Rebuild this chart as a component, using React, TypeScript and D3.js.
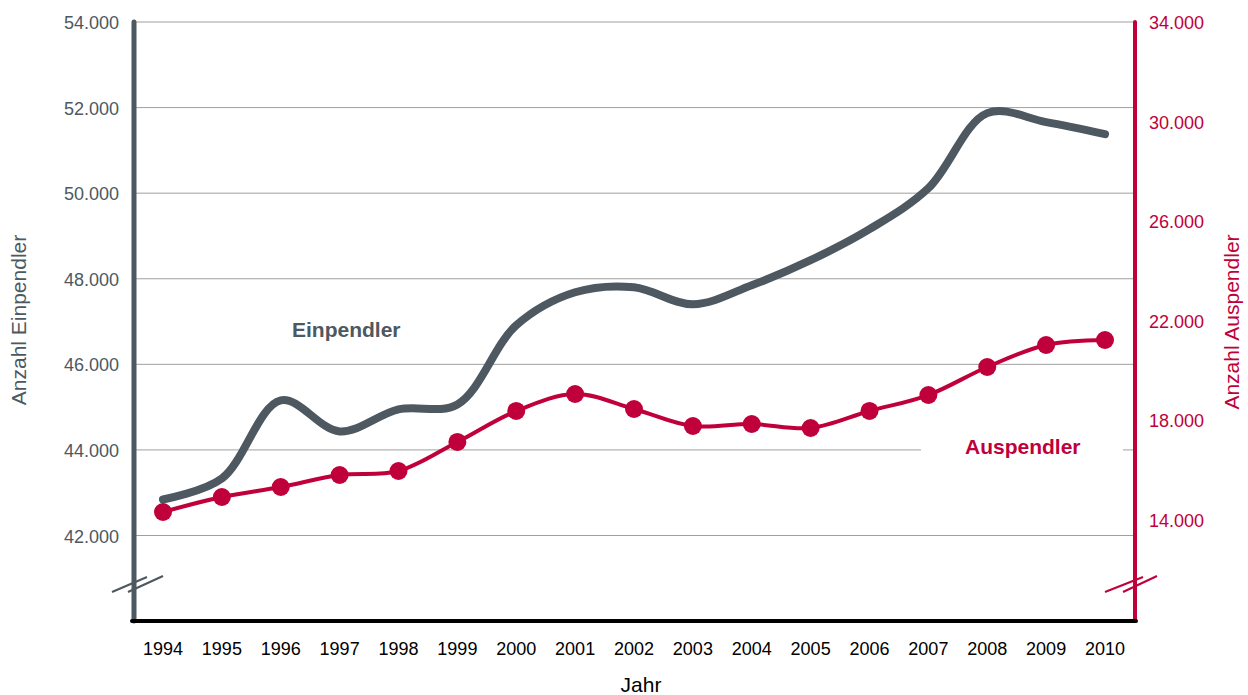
import React from "react";
import * as d3 from "d3";

const years = [1994,1995,1996,1997,1998,1999,2000,2001,2002,2003,2004,2005,2006,2007,2008,2009,2010];
const einpendler = [42842,43333,45158,44433,44947,45064,46912,47684,47801,47404,47848,48433,49158,50117,51871,51661,51380];
const auspendler = [14321,14924,15325,15807,15968,17133,18378,19060,18458,17775,17855,17695,18378,19020,20145,21028,21229];
const leftTicks = [42000,44000,46000,48000,50000,52000,54000];
const rightTicks = [14000,18000,22000,26000,30000,34000];

const GRAY = "#4d5861";
const RED = "#c0003b";
const fmt = (v: number) => d3.format(",")(v).replace(/,/g, ".");

export default function App() {
  const W = 1248, H = 695;
  const xL = 134, xR = 1135, yTop = 22, yBot = 621;
  const x = d3.scalePoint<number>().domain(years).range([163, 1105]);
  const yL = d3.scaleLinear().domain([42000, 54000]).range([535.5, 22]);
  const yR = d3.scaleLinear().domain([14000, 34000]).range([520, 22]);

  const lineE = d3.line<number>().x((_, i) => x(years[i])!).y(d => yL(d)).curve(d3.curveCatmullRom.alpha(0.5));
  const lineA = d3.line<number>().x((_, i) => x(years[i])!).y(d => yR(d)).curve(d3.curveCatmullRom.alpha(0.5));
  const font = "'Liberation Sans', Arial, sans-serif";

  return (
    <svg width={W} height={H} style={{ position: "absolute", left: 0, top: 0, background: "#fff" }} fontFamily={font}>
      {leftTicks.map(t => (
        <g key={t}>
          <line x1={xL} x2={xR} y1={yL(t)} y2={yL(t)} stroke="#a0a0a0" strokeWidth={1} />
          <text x={119} y={yL(t) + 7} textAnchor="end" fontSize={18} fill={GRAY}>{fmt(t)}</text>
        </g>
      ))}
      {rightTicks.map(t => (
        <text key={t} x={1149} y={yR(t) + 7} textAnchor="start" fontSize={18} fill={RED}>{fmt(t)}</text>
      ))}
      <rect x={921} y={436} width={202} height={28} fill="#fff" />
      <path d={lineE(einpendler) || ""} fill="none" stroke={GRAY} strokeWidth={8} strokeLinecap="round" strokeLinejoin="round" />
      <path d={lineA(auspendler) || ""} fill="none" stroke={RED} strokeWidth={4} />
      {auspendler.map((v, i) => (
        <circle key={i} cx={x(years[i])} cy={yR(v)} r={9} fill={RED} />
      ))}
      {/* axes */}
      <line x1={xL} x2={xL} y1={yTop} y2={yBot} stroke={GRAY} strokeWidth={5} strokeLinecap="round" />
      <line x1={xR} x2={xR} y1={yTop} y2={yBot} stroke={RED} strokeWidth={4} strokeLinecap="round" />
      <line x1={xL - 2} x2={xR + 1} y1={yBot} y2={yBot} stroke="#000" strokeWidth={4} strokeLinecap="round" />
      {/* breaks */}
      <line x1={112} y1={592} x2={147} y2={577} stroke={GRAY} strokeWidth={2} />
      <line x1={128} y1={592} x2={163} y2={576} stroke={GRAY} strokeWidth={2} />
      <line x1={1105} y1={592} x2={1143} y2={577} stroke={RED} strokeWidth={2} />
      <line x1={1123} y1={592} x2={1157} y2={576} stroke={RED} strokeWidth={2} />
      {years.map(yv => (
        <text key={yv} x={x(yv)} y={655} textAnchor="middle" fontSize={18} fill="#000">{yv}</text>
      ))}
      <text x={641} y={692} textAnchor="middle" fontSize={21} fill="#000">Jahr</text>
      <text transform="translate(26,320) rotate(-90)" textAnchor="middle" fontSize={21} fill={GRAY}>Anzahl Einpendler</text>
      <text transform="translate(1239,322) rotate(-90)" textAnchor="middle" fontSize={21} fill={RED}>Anzahl Auspendler</text>
      <text x={292} y={337} fontSize={21} fontWeight="bold" fill={GRAY}>Einpendler</text>
      <text x={965} y={454} fontSize={21} fontWeight="bold" fill={RED}>Auspendler</text>
    </svg>
  );
}
